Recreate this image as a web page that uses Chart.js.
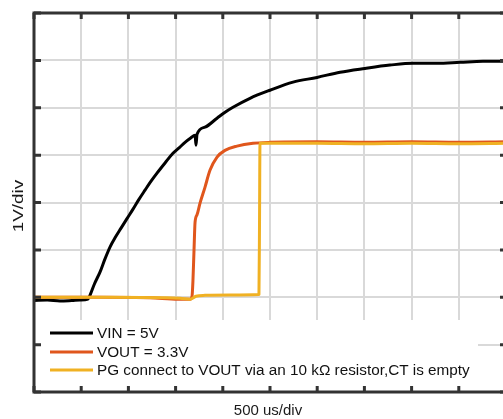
<!DOCTYPE html>
<html>
<head>
<meta charset="utf-8">
<script src="https://cdn.jsdelivr.net/npm/chart.js@4.4.1/dist/chart.umd.min.js"></script>
<style>
  html, body { margin: 0; padding: 0; background: #fff; overflow: hidden; }
  #wrap { width: 503px; height: 419px; overflow: hidden; }
  canvas { display: block; }
</style>
</head>
<body>
<div id="wrap"><canvas id="scope" width="520" height="419"></canvas></div>
<script>
// scope capture, time in us, level in V
const vinTime = [0, 140, 275, 400, 487, 572, 593, 640, 699, 750, 805, 860, 922, 985, 1049, 1110, 1176, 1240, 1303, 1390, 1472, 1540, 1600, 1660, 1706, 1716, 1727, 1811, 1939, 2020, 2108, 2288, 2500, 2744, 2998, 3242, 3506, 3771, 4015, 4269, 4513, 4756, 5000];
const vinVolt = [-0.07, -0.06, -0.08, -0.07, -0.06, -0.04, 0.04, 0.28, 0.53, 0.80, 1.06, 1.26, 1.46, 1.66, 1.86, 2.06, 2.26, 2.45, 2.62, 2.84, 3.04, 3.16, 3.27, 3.36, 3.42, 3.21, 3.44, 3.59, 3.78, 3.90, 4.01, 4.20, 4.37, 4.54, 4.64, 4.75, 4.83, 4.90, 4.94, 4.94, 4.96, 4.98, 4.98];

const voutTime = [0, 700, 1230, 1525, 1653, 1674, 1684, 1695, 1706, 1727, 1758, 1811, 1864, 1939, 2023, 2150, 2320, 2500, 3000, 3500, 4000, 4500, 5000];
const voutVolt = [0.0, 0.0, -0.01, -0.04, -0.04, 0.02, 0.36, 0.99, 1.58, 1.74, 1.98, 2.32, 2.68, 2.96, 3.10, 3.19, 3.25, 3.27, 3.28, 3.27, 3.28, 3.27, 3.28];

const pgTime = [0, 800, 1547, 1653, 1716, 1811, 2076, 2383, 2389, 2394, 3000, 3500, 4000, 4500, 5000];
const pgVolt = [0.0, 0.0, -0.02, -0.04, 0.02, 0.04, 0.05, 0.06, 1.6, 3.25, 3.25, 3.24, 3.25, 3.24, 3.25];

const seriesLabels = ['VIN = 5V', 'VOUT = 3.3V', 'PG connect to VOUT via an 10 k\u03A9 resistor,CT is empty'];
const seriesColors = ['#000000', '#e0561c', '#f0b123'];
const xTitle = '500 us/div';
const yTitle = '1V/div';
const xRange = [0, 5000, 500];   // min, max, step (us)
const yRange = [-2, 6, 1];       // min, max, step (V)

const toPoints = (t, v) => t.map((x, i) => ({ x: x, y: v[i] }));

// frame, inward ticks, legend box and axis titles
const scopeFrame = {
  id: 'scopeFrame',
  afterDatasetsDraw(chart) {
    const { ctx, chartArea: a, scales: { x, y } } = chart;
    ctx.save();

    // legend with white background over the grid
    ctx.fillStyle = '#ffffff';
    ctx.fillRect(a.left + 2, 320, 442, 69);
    const rows = [333, 352, 370];
    ctx.font = '15.3px Arial, "Liberation Sans", sans-serif';
    ctx.textBaseline = 'middle';
    ctx.textAlign = 'left';
    chart.data.datasets.forEach((ds, i) => {
      ctx.strokeStyle = ds.borderColor;
      ctx.lineWidth = 3;
      ctx.beginPath();
      ctx.moveTo(50, rows[i]);
      ctx.lineTo(93, rows[i]);
      ctx.stroke();
      ctx.fillStyle = '#111';
      ctx.fillText(ds.label, 97, rows[i] + 1);
    });

    // axes box
    ctx.strokeStyle = '#333';
    ctx.lineWidth = 3;
    ctx.strokeRect(a.left, a.top, a.right - a.left, a.bottom - a.top);

    // inward tick marks on all four sides
    ctx.beginPath();
    x.ticks.forEach(t => {
      const px = x.getPixelForValue(t.value);
      ctx.moveTo(px, a.top); ctx.lineTo(px, a.top + 6);
      ctx.moveTo(px, a.bottom); ctx.lineTo(px, a.bottom - 6);
    });
    y.ticks.forEach(t => {
      const py = y.getPixelForValue(t.value);
      ctx.moveTo(a.left, py); ctx.lineTo(a.left + 7, py);
      ctx.moveTo(a.right, py); ctx.lineTo(a.right - 6, py);
    });
    ctx.stroke();

    // axis titles
    ctx.fillStyle = '#1a1a1a';
    ctx.textAlign = 'center';
    ctx.font = '15px Arial, "Liberation Sans", sans-serif';
    ctx.fillText(xTitle, 268, 411);
    // the y title is stretched along its length in the original
    ctx.translate(19, 206);
    ctx.rotate(-Math.PI / 2);
    ctx.scale(1.26, 1);
    ctx.fillText(yTitle, 0, 0);
    ctx.restore();
  }
};

new Chart(document.getElementById('scope'), {
  type: 'line',
  data: {
    datasets: [
      { label: seriesLabels[0], data: toPoints(vinTime, vinVolt), borderColor: seriesColors[0], order: 3 },
      { label: seriesLabels[1], data: toPoints(voutTime, voutVolt), borderColor: seriesColors[1], order: 2 },
      { label: seriesLabels[2], data: toPoints(pgTime, pgVolt), borderColor: seriesColors[2], order: 1 }
    ]
  },
  options: {
    responsive: false,
    animation: false,
    layout: { padding: { top: 13, right: 14, left: 0, bottom: 0 } },
    elements: {
      line: { borderWidth: 3, cubicInterpolationMode: 'monotone', fill: false, borderJoinStyle: 'round' },
      point: { radius: 0 }
    },
    plugins: {
      legend: { display: false },
      tooltip: { enabled: false }
    },
    scales: {
      x: {
        type: 'linear',
        min: xRange[0], max: xRange[1],
        ticks: { display: false, stepSize: xRange[2] },
        grid: { color: '#d9d9d9', lineWidth: 2, drawTicks: false },
        border: { display: false },
        afterFit: s => { s.height = 27; }
      },
      y: {
        type: 'linear',
        min: yRange[0], max: yRange[1],
        ticks: { display: false, stepSize: yRange[2] },
        grid: { color: '#d9d9d9', lineWidth: 2, drawTicks: false },
        border: { display: false },
        afterFit: s => { s.width = 34; }
      }
    }
  },
  plugins: [scopeFrame]
});
</script>
</body>
</html>
